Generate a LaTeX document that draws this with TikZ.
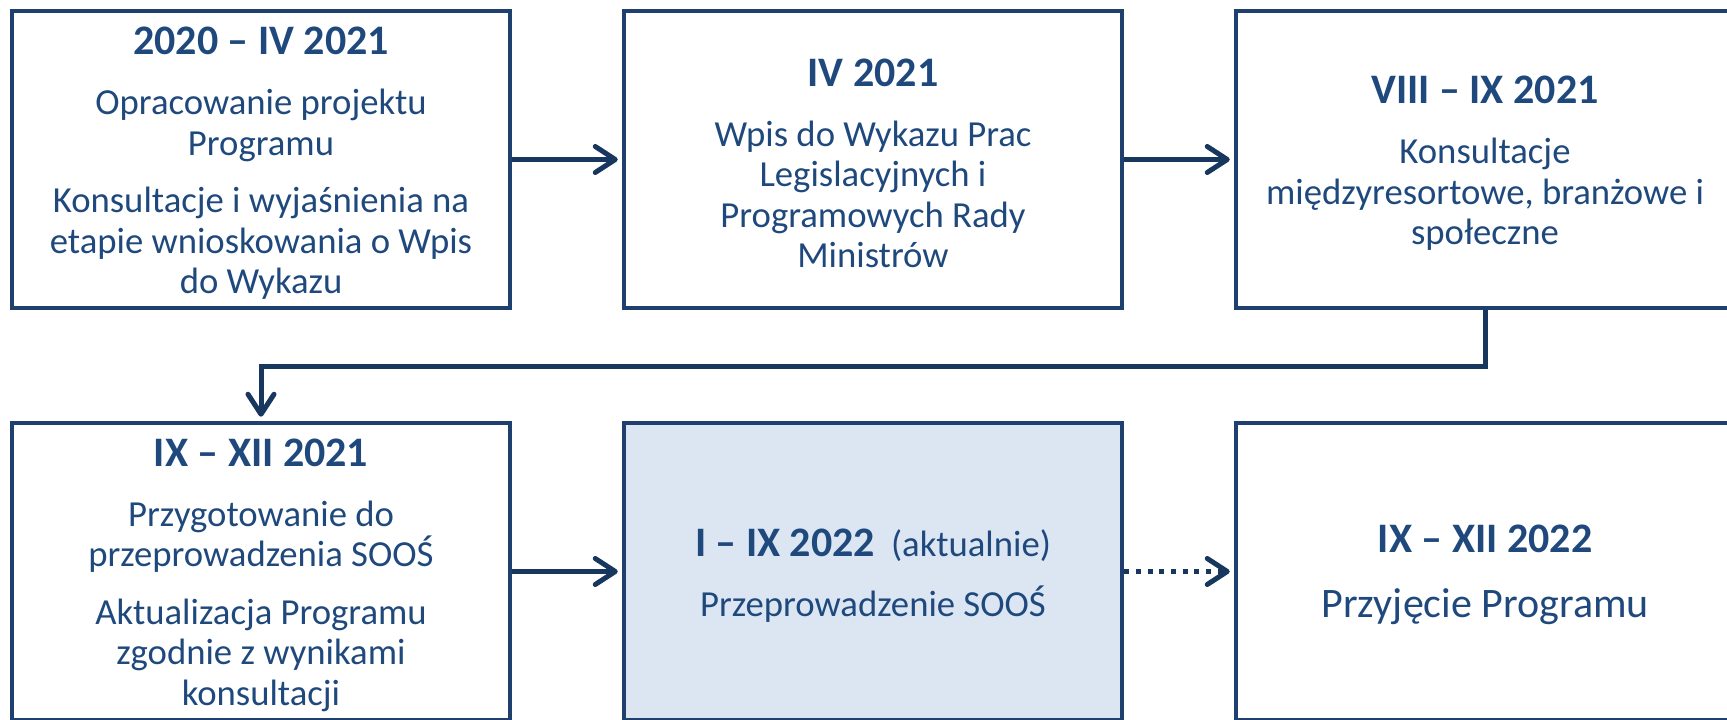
\documentclass[tikz,border=0pt]{standalone}
\usepackage{fontspec}
\setmainfont{Carlito}
\usetikzlibrary{arrows.meta}

\definecolor{navyline}{HTML}{1F3F6F}
\definecolor{navytext}{HTML}{1F497D}
\definecolor{arrowblue}{HTML}{17375E}
\definecolor{nowfill}{HTML}{DCE6F2}

\newcommand{\period}[1]{{\fontsize{42pt}{40.5pt}\selectfont\bfseries\rule{0pt}{35pt}#1}}

\begin{document}
\begin{tikzpicture}[x=1pt, y=1pt,
        stage/.style={draw=navyline, line width=4.5pt, rectangle, minimum width=498pt, minimum height=297pt, inner sep=0pt, align=center, text=navytext, font=\fontsize{36.7pt}{40.5pt}\selectfont},
        flow/.style={draw=arrowblue, line width=5pt, -{Straight Barb[length=20pt,width=26pt,round]}, shorten >=4pt}]
        \useasboundingbox (0,0) rectangle (1727,720);
        \clip (0,0) rectangle (1727,720);

        \node[stage] (draft) at (261,560.5) {\period{2020 – IV 2021}\\[19.5pt] Opracowanie projektu\\Programu\\[17pt] Konsultacje i wyjaśnienia na\\etapie wnioskowania o Wpis\\do Wykazu};
        \node[stage] (wpis) at ([xshift=612pt]draft.center) {\period{IV 2021}\\[19.5pt] Wpis do Wykazu Prac\\Legislacyjnych i\\Programowych Rady\\Ministrów};
        \node[stage] (conslt) at ([xshift=612pt]wpis.center) {\period{VIII – IX 2021}\\[19.5pt] Konsultacje\\międzyresortowe, branżowe i\\społeczne};

        \node[stage] (prep) at ([yshift=-412pt]draft.center) {\period{IX – XII 2021}\\[19.5pt] Przygotowanie do\\przeprowadzenia SOOŚ\\[17pt] Aktualizacja Programu\\zgodnie z wynikami\\konsultacji};
        \node[stage, fill=nowfill] (survey) at ([xshift=612pt]prep.center) {\period{I – IX 2022}\hspace{16pt}(aktualnie)\\[19.5pt] Przeprowadzenie SOOŚ};
        \node[stage, font=\fontsize{42pt}{45pt}\selectfont] (adopt) at ([xshift=612pt]survey.center) {\period{IX – XII 2022}\\[20pt] Przyjęcie Programu};

        \draw[flow] (draft) -- (wpis);
        \draw[flow] (wpis) -- (conslt);
        \draw[flow] (conslt.south) -- ++(0,-56) -| (prep.north);
        \draw[flow] (prep) -- (survey);
        \draw[flow, dash pattern=on 5pt off 6.7pt] (survey) -- (adopt);

    \end{tikzpicture}
\end{document}
